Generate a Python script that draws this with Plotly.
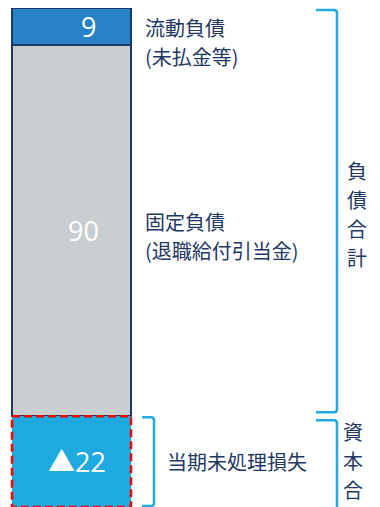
import plotly.graph_objects as go

# Balance-sheet style stacked column: liabilities above zero, capital deficit below
segments = ["流動負債", "固定負債", "当期未処理損失"]
values = [9, 90, -22]
value_labels = ["9", "90", "▲22"]
fill_colors = ["#2882C8", "#C9CED1", "#1EAAE1"]
side_labels = [["流動負債", "(未払金等)"], ["固定負債", "(退職給付引当金)"], ["当期未処理損失"]]
group_labels = ["負債合計", "資本合計"]

W, H = 380, 507
M_T = 8
NAVY = "#1B3A6B"
TEXT = "#1F3864"
BRACE = "#22A9E1"
LINE = 29  # px between stacked text lines

y_hi = values[0] + values[1]
y_lo = values[2]
plot_h = H - M_T
px_per_unit = plot_h / (y_hi - y_lo)

# x axis: single column of width 1 centred at 0
X_PX = 119.0
x0 = -0.5 - 12 / X_PX
x1 = x0 + W / X_PX


def xd(px):
    return x0 + px / X_PX


def y_px(v):
    return M_T + (y_hi - v) * px_per_unit


def yd(py):
    return y_hi - (py - M_T) / px_per_unit


fig = go.Figure()
# stack order: fixed liabilities first (bottom of the positive part), then current ones
for i in (1, 0, 2):
    v = values[i]
    fig.add_trace(go.Bar(
        x=[0], y=[v], name=segments[i], width=1,
        marker=dict(color=fill_colors[i], line=dict(color=NAVY, width=2 if v > 0 else 0)),
        hoverinfo="skip", showlegend=False,
    ))

# value labels inside segments
bases = [values[1], 0, 0]
shifts = [17, 12, 5]
for v, lab, b, xs in zip(values, value_labels, bases, shifts):
    fig.add_annotation(x=0, y=b + v / 2, text=lab, showarrow=False,
                       xshift=xs, font=dict(family="Open Sans, Noto Sans CJK JP", size=27, color="white"))

# dashed outline for the deficit segment
fig.add_shape(type="rect", x0=-0.5, x1=0.5, y0=0, y1=values[2], xref="x", yref="y",
              line=dict(color="#FF0000", width=2.5, dash="8px,4px"), layer="above")


def bracket(xl, xr, yt, yb, r=3):
    pts = (f"M {xd(xl)},{yd(yt)} L {xd(xr - r)},{yd(yt)} "
           f"Q {xd(xr)},{yd(yt)} {xd(xr)},{yd(yt + r)} "
           f"L {xd(xr)},{yd(yb - r)} "
           f"Q {xd(xr)},{yd(yb)} {xd(xr - r)},{yd(yb)} L {xd(xl)},{yd(yb)}")
    fig.add_shape(type="path", path=pts, xref="x", yref="y",
                  line=dict(color=BRACE, width=2.5))


zero_px = y_px(0)
bracket(316, 337, y_px(y_hi) + 2, zero_px - 4)
bracket(316, 337, zero_px + 4, H + 10)
bracket(142, 154, zero_px + 1, y_px(y_lo) - 1)

lab_font = dict(family="Noto Sans CJK JP", size=20, color=TEXT)


def stacked_lines(lines, x, y, first_shift, xanchor="left"):
    for k, line in enumerate(lines):
        fig.add_annotation(x=x, y=y, text=line, xanchor=xanchor, yanchor="middle",
                           yshift=first_shift - k * LINE, showarrow=False, font=lab_font)


# side labels next to each segment
stacked_lines(side_labels[0], xd(143), y_hi, -19)
stacked_lines(side_labels[1], xd(143), values[1] / 2, LINE / 2 - 5)
stacked_lines(side_labels[2], xd(165), values[2] / 2, 0)

# vertical group captions, one character per row
stacked_lines(list(group_labels[0]), xd(357), y_hi / 2, 1.5 * LINE - 2, xanchor="center")
stacked_lines(list(group_labels[1]), xd(353), 0, -15, xanchor="center")

fig.update_layout(
    width=W, height=H, barmode="relative", bargap=0,
    margin=dict(l=0, r=0, t=M_T, b=0),
    paper_bgcolor="white", plot_bgcolor="white",
    xaxis=dict(range=[x0, x1], visible=False, fixedrange=True),
    yaxis=dict(range=[y_lo, y_hi], visible=False, fixedrange=True),
)

fig.write_html("out.html", config={"displayModeBar": False})
